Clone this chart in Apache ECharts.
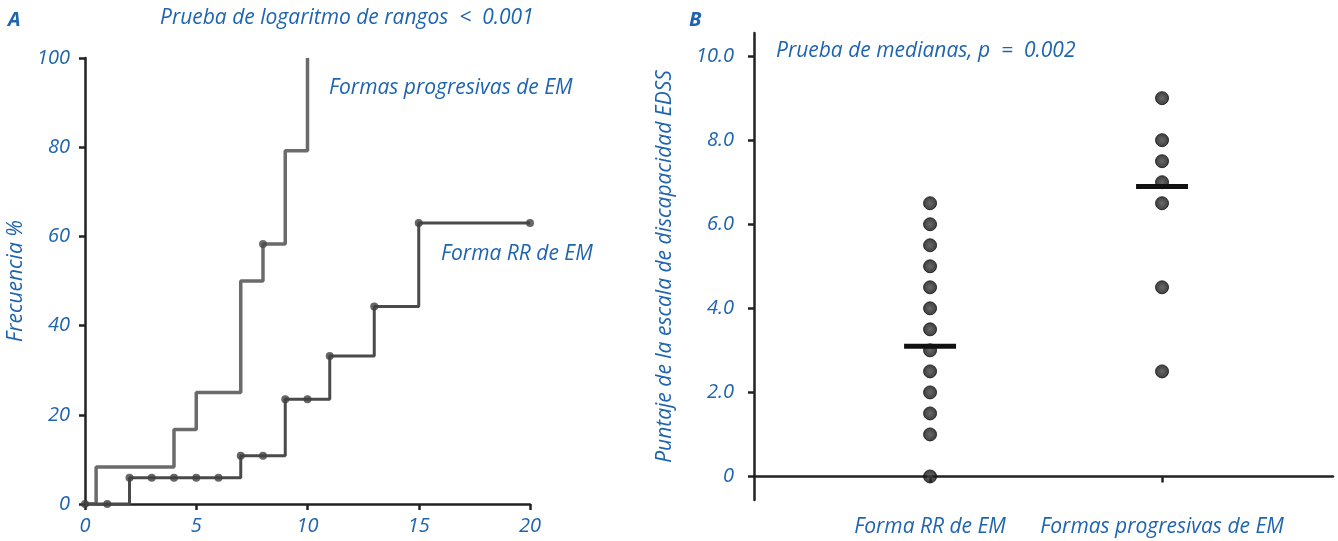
<!DOCTYPE html>
<html><head><meta charset="utf-8">
<script src="https://cdn.jsdelivr.net/npm/echarts@6/dist/echarts.min.js"></script>
<style>html,body{margin:0;padding:0;background:#fff}#c{width:1338px;height:541px}</style>
</head><body><div id="c"></div>
<script>
// Panel A: Kaplan-Meier style step curves (x = time, y = frecuencia %)
const progSteps = [[0,0],[0.5,8.3],[4,16.7],[5,25],[7,50],[8,58.3],[9,79.2],[10,100]];
const progDots = [[8,58.3]];
const rrSteps = [[0,0],[2,5.9],[7,10.8],[9,23.5],[11,33.2],[13,44.3],[15,63],[20,63]];
const rrDots = [[0,0],[1,0],[2,5.9],[3,5.9],[4,5.9],[5,5.9],[6,5.9],[7,10.8],[8,10.8],[9,23.5],[10,23.5],[11,33.2],[13,44.3],[15,63],[20,63]];
const xTicksA = [0,5,10,15,20];
const yTicksA = [0,20,40,60,80,100];

// Panel B: EDSS scores by group
const groupsB = ['Forma RR de EM','Formas progresivas de EM'];
const rrScores = [0,1.0,1.5,2.0,2.5,3.0,3.5,4.0,4.5,5.0,5.5,6.0,6.5];
const progScores = [2.5,4.5,6.5,7.0,7.5,8.0,9.0];
const mediansB = [3.1,6.9];
const yTicksB = [0,2,4,6,8,10];

const BLUE = '#1f64ae';
const FONT = 'Open Sans';
const lblStyle = {color: BLUE, fontStyle: 'italic', fontFamily: FONT, fontSize: 20};
const nameStyle = {color: BLUE, fontStyle: 'italic', fontFamily: FONT, fontSize: 21};
const axLine = {show: true, lineStyle: {color: '#222', width: 2.5}};
const axTick = {show: true, length: 6, lineStyle: {color: '#222', width: 2.5}};
const annFont = 'italic 21px "Open Sans"';

const dotGrad = {type:'radial', x:0.5, y:0.5, r:0.5, colorStops:[{offset:0,color:'#444'},{offset:0.45,color:'#2a2a2a'},{offset:1,color:'#0e0e0e'}]};

const medianSeries = mediansB.map((m, i) => ({
  type: 'line', xAxisIndex: 1, yAxisIndex: 1, symbol: 'none', z: 5,
  lineStyle: {color: '#111', width: 5}, silent: true,
  data: [[i + 1 - 0.112, m], [i + 1 + 0.112, m]]
}));

const chart = echarts.init(document.getElementById('c'), null, {renderer: 'canvas'});
chart.setOption({
  animation: false,
  backgroundColor: '#fff',
  grid: [
    {left: 85, top: 58, width: 445, height: 446},
    {left: 754, top: 33, width: 579, height: 467}
  ],
  xAxis: [
    {type: 'value', gridIndex: 0, min: 0, max: 20, interval: 5,
     axisLine: axLine, axisTick: axTick, splitLine: {show: false},
     axisLabel: Object.assign({margin: 12}, lblStyle)},
    {type: 'value', gridIndex: 1, min: 0.241, max: 2.737,
     axisLine: axLine, axisTick: Object.assign({customValues: [1,2]}, axTick), splitLine: {show: false},
     axisLabel: Object.assign({}, nameStyle, {margin: 17, customValues: [1,2], formatter: v => groupsB[Math.round(v) - 1] || ''})}
  ],
  yAxis: [
    {type: 'value', gridIndex: 0, min: 0, max: 100, interval: 20,
     axisLine: axLine, axisTick: axTick, splitLine: {show: false},
     axisLabel: Object.assign({margin: 15}, lblStyle),
     name: 'Frecuencia %', nameLocation: 'middle', nameGap: 58, nameRotate: 90,
     nameTextStyle: nameStyle},
    {type: 'value', gridIndex: 1, min: -0.56, max: 10.55,
     axisLine: axLine, axisTick: Object.assign({customValues: yTicksB}, axTick), splitLine: {show: false},
     axisLabel: Object.assign({margin: 20, customValues: yTicksB, formatter: v => v === 0 ? '0' : v.toFixed(1)}, lblStyle),
     name: 'Puntaje de la escala de discapacidad EDSS', nameLocation: 'middle', nameGap: 78, nameRotate: 90,
     nameTextStyle: nameStyle}
  ],
  graphic: [
    {type: 'text', left: 8, top: 10, style: {text: 'A', fill: BLUE, font: 'italic bold 20px "Open Sans"'}},
    {type: 'text', left: 689, top: 10, style: {text: 'B', fill: BLUE, font: 'italic bold 20px "Open Sans"'}},
    {type: 'text', left: 160, top: 8, style: {text: 'Prueba de logaritmo de rangos  <  0.001', fill: BLUE, font: annFont}},
    {type: 'text', left: 329, top: 78, style: {text: 'Formas progresivas de EM', fill: BLUE, font: annFont}},
    {type: 'text', left: 441, top: 244, style: {text: 'Forma RR de EM', fill: BLUE, font: annFont}},
    {type: 'text', left: 776, top: 41, style: {text: 'Prueba de medianas, p  =  0.002', fill: BLUE, font: annFont}}
  ],
  series: [
    {type: 'line', xAxisIndex: 0, yAxisIndex: 0, step: 'end', symbol: 'none', z: 2,
     lineStyle: {color: '#6b6b6b', width: 3.5}, data: progSteps},
    {type: 'line', xAxisIndex: 0, yAxisIndex: 0, step: 'end', symbol: 'none', z: 3,
     lineStyle: {color: '#4a4a4a', width: 3}, data: rrSteps},
    {type: 'scatter', xAxisIndex: 0, yAxisIndex: 0, symbolSize: 8, z: 4,
     itemStyle: {color: '#404040'}, data: rrDots},
    {type: 'scatter', xAxisIndex: 0, yAxisIndex: 0, symbolSize: 8, z: 4,
     itemStyle: {color: '#4a4a4a'}, data: progDots},
    {type: 'scatter', xAxisIndex: 1, yAxisIndex: 1, symbolSize: 13, z: 3,
     itemStyle: {color: dotGrad, borderColor: '#111', borderWidth: 1}, data: rrScores.map(v => [1, v])},
    {type: 'scatter', xAxisIndex: 1, yAxisIndex: 1, symbolSize: 13, z: 3,
     itemStyle: {color: dotGrad, borderColor: '#111', borderWidth: 1}, data: progScores.map(v => [2, v])}
  ].concat(medianSeries)
});
</script></body></html>
